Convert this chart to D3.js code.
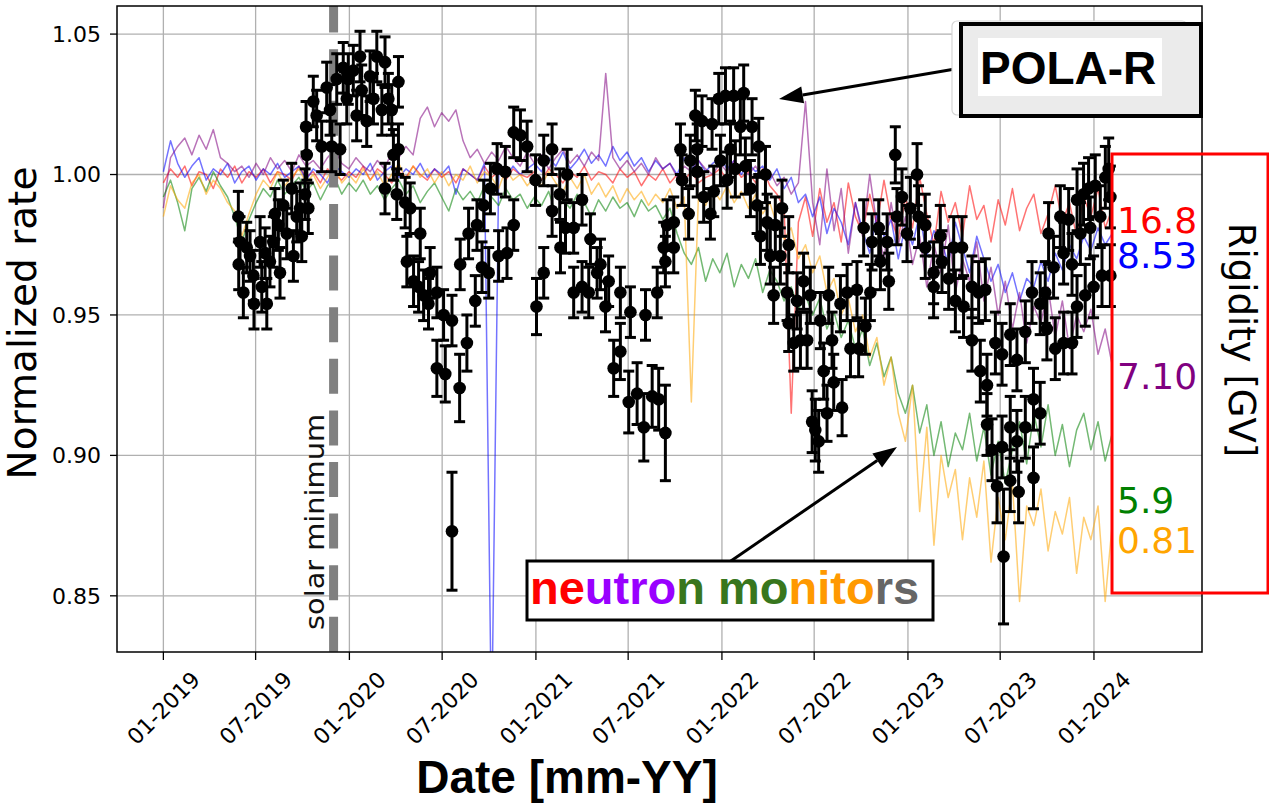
<!DOCTYPE html>
<html>
<head>
<meta charset="utf-8">
<script src="https://cdn.jsdelivr.net/npm/d3@7"></script>
<style>
    html, body { margin: 0; padding: 0; background: #fff; }
    svg { display: block; }
</style>
</head>
<body>
<svg id="chart" width="1269" height="805"></svg>
<script>
// POLA-R normalized rate: [ decimal year, rate, error ]
var polaR = [
    [2019.403,0.985,0.009],[2019.405,0.968,0.009],[2019.412,0.976,0.009],[2019.430,0.958,0.009],[2019.448,0.974,0.009],
    [2019.466,0.971,0.009],[2019.484,0.964,0.009],[2019.487,0.954,0.009],[2019.520,0.976,0.009],[2019.529,0.960,0.009],
    [2019.547,0.972,0.009],[2019.556,0.954,0.009],[2019.573,0.969,0.009],[2019.591,0.976,0.009],[2019.600,0.986,0.009],
    [2019.618,0.982,0.009],[2019.627,0.965,0.009],[2019.645,0.989,0.009],[2019.663,0.979,0.009],[2019.690,0.995,0.009],
    [2019.699,0.971,0.009],[2019.717,0.985,0.009],[2019.735,0.988,0.009],[2019.744,0.978,0.009],[2019.762,0.993,0.009],
    [2019.771,1.007,0.009],[2019.767,1.017,0.009],[2019.779,0.988,0.009],[2019.806,1.026,0.009],[2019.824,1.021,0.009],
    [2019.851,1.010,0.009],[2019.878,1.031,0.009],[2019.896,1.023,0.009],[2019.905,1.010,0.009],[2019.932,1.034,0.009],
    [2019.950,1.009,0.009],[2019.967,1.038,0.009],[2019.986,1.027,0.009],[2019.994,1.034,0.009],[2020.021,1.037,0.009],
    [2020.039,1.021,0.009],[2020.057,1.042,0.009],[2020.066,1.030,0.009],[2020.093,1.019,0.009],[2020.111,1.035,0.009],
    [2020.129,1.027,0.009],[2020.147,1.042,0.009],[2020.174,1.023,0.009],[2020.191,1.040,0.009],[2020.191,0.995,0.009],
    [2020.209,1.027,0.009],[2020.227,1.023,0.009],[2020.236,1.007,0.009],[2020.254,0.993,0.009],[2020.263,1.033,0.009],
    [2020.263,1.009,0.009],[2020.299,0.990,0.009],[2020.308,0.969,0.009],[2020.326,0.988,0.009],[2020.344,0.962,0.009],
    [2020.371,0.960,0.009],[2020.380,0.979,0.009],[2020.398,0.957,0.009],[2020.424,0.954,0.009],[2020.433,0.965,0.009],
    [2020.469,0.958,0.009],[2020.469,0.931,0.010],[2020.505,0.950,0.009],[2020.514,0.929,0.010],[2020.550,0.948,0.009],
    [2020.550,0.873,0.021],[2020.591,0.924,0.012],[2020.594,0.968,0.009],[2020.630,0.940,0.010],[2020.639,0.979,0.009],
    [2020.675,0.955,0.009],[2020.684,0.982,0.009],[2020.711,0.967,0.009],[2020.720,0.989,0.009],[2020.747,0.965,0.009],
    [2020.756,0.995,0.009],[2020.792,1.002,0.009],[2020.800,0.971,0.009],[2020.836,1.001,0.009],[2020.845,0.972,0.009],
    [2020.881,1.015,0.009],[2020.881,0.982,0.009],[2020.917,1.014,0.009],[2020.953,1.010,0.009],[2020.998,0.998,0.009],
    [2021.003,0.953,0.010],[2021.042,0.965,0.009],[2021.042,1.005,0.009],[2021.087,1.009,0.009],[2021.087,0.987,0.009],
    [2021.128,0.993,0.009],[2021.132,0.974,0.009],[2021.159,0.981,0.009],[2021.168,1.000,0.009],[2021.203,0.981,0.009],
    [2021.203,0.958,0.009],[2021.248,0.991,0.009],[2021.248,0.960,0.009],[2021.284,0.958,0.009],[2021.293,0.977,0.009],
    [2021.329,0.965,0.009],[2021.347,0.968,0.009],[2021.374,0.953,0.009],[2021.391,0.962,0.009],[2021.418,0.931,0.010],
    [2021.454,0.937,0.010],[2021.454,0.958,0.009],[2021.499,0.919,0.011],[2021.508,0.951,0.009],[2021.544,0.922,0.011],
    [2021.580,0.910,0.012],[2021.589,0.950,0.009],[2021.625,0.921,0.011],[2021.652,0.958,0.009],[2021.660,0.920,0.011],
    [2021.687,0.974,0.009],[2021.696,0.908,0.017],[2021.696,0.969,0.009],[2021.705,0.982,0.009],[2021.741,0.974,0.009],
    [2021.741,0.983,0.009],[2021.777,1.009,0.009],[2021.786,0.998,0.009],[2021.821,0.986,0.009],[2021.830,1.005,0.009],
    [2021.857,1.021,0.009],[2021.867,1.009,0.009],[2021.867,1.001,0.009],[2021.893,1.019,0.009],[2021.902,0.992,0.009],
    [2021.938,0.986,0.009],[2021.947,1.018,0.009],[2021.956,0.994,0.009],[2021.983,1.027,0.009],[2021.992,1.005,0.009],
    [2022.019,1.028,0.010],[2022.028,0.998,0.010],[2022.046,1.009,0.010],[2022.063,1.028,0.010],[2022.072,1.002,0.010],
    [2022.099,1.017,0.010],[2022.117,1.029,0.010],[2022.126,1.003,0.010],[2022.153,0.995,0.010],[2022.162,1.017,0.010],
    [2022.189,0.989,0.010],[2022.198,1.010,0.010],[2022.207,0.978,0.010],[2022.234,1.000,0.010],[2022.243,0.983,0.010],
    [2022.260,0.971,0.010],[2022.278,0.957,0.010],[2022.287,0.982,0.010],[2022.314,0.971,0.010],[2022.323,0.988,0.010],
    [2022.350,0.958,0.010],[2022.359,0.975,0.010],[2022.359,0.947,0.010],[2022.386,0.940,0.010],[2022.404,0.955,0.010],
    [2022.422,0.941,0.010],[2022.439,0.962,0.010],[2022.458,0.941,0.010],[2022.475,0.957,0.010],[2022.485,0.912,0.011],
    [2022.502,0.909,0.011],[2022.520,0.905,0.011],[2022.529,0.948,0.010],[2022.547,0.930,0.010],[2022.565,0.915,0.010],
    [2022.574,0.957,0.010],[2022.592,0.941,0.010],[2022.601,0.926,0.010],[2022.637,0.954,0.010],[2022.646,0.917,0.010],
    [2022.673,0.958,0.010],[2022.691,0.938,0.010],[2022.726,0.959,0.010],[2022.735,0.938,0.010],[2022.762,0.981,0.010],
    [2022.771,0.946,0.010],[2022.798,0.958,0.010],[2022.807,0.976,0.010],[2022.843,0.981,0.010],[2022.852,0.969,0.010],
    [2022.888,0.976,0.010],[2022.897,0.962,0.010],[2022.932,1.007,0.010],[2022.941,0.985,0.010],[2022.968,0.992,0.010],
    [2022.995,0.979,0.010],[2023.013,0.988,0.011],[2023.049,1.000,0.011],[2023.057,0.985,0.011],[2023.093,0.974,0.011],
    [2023.093,0.982,0.011],[2023.138,0.965,0.011],[2023.138,0.960,0.011],[2023.174,0.978,0.011],[2023.183,0.969,0.011],
    [2023.219,0.963,0.011],[2023.246,0.974,0.011],[2023.255,0.955,0.011],[2023.291,0.974,0.011],[2023.299,0.953,0.011],
    [2023.344,0.960,0.011],[2023.344,0.941,0.011],[2023.380,0.958,0.011],[2023.389,0.930,0.011],[2023.416,0.959,0.011],
    [2023.425,0.925,0.011],[2023.425,0.911,0.011],[2023.452,0.902,0.011],[2023.470,0.940,0.011],[2023.479,0.889,0.013],
    [2023.506,0.936,0.011],[2023.506,0.903,0.011],[2023.514,0.864,0.024],[2023.550,0.943,0.011],[2023.550,0.910,0.011],
    [2023.550,0.891,0.011],[2023.586,0.934,0.011],[2023.586,0.905,0.011],[2023.595,0.887,0.011],[2023.631,0.944,0.011],
    [2023.631,0.910,0.011],[2023.667,0.958,0.011],[2023.675,0.892,0.011],[2023.675,0.920,0.011],[2023.711,0.915,0.011],
    [2023.711,0.954,0.011],[2023.738,0.958,0.011],[2023.747,0.945,0.011],[2023.756,0.979,0.011],[2023.783,0.967,0.011],
    [2023.792,0.938,0.011],[2023.819,0.985,0.011],[2023.837,0.972,0.011],[2023.837,0.940,0.011],[2023.864,0.984,0.011],
    [2023.882,0.968,0.011],[2023.882,0.940,0.011],[2023.909,0.991,0.011],[2023.909,0.953,0.011],[2023.927,0.979,0.011],
    [2023.944,0.993,0.011],[2023.953,0.957,0.011],[2023.971,0.995,0.011],[2023.980,0.981,0.011],[2023.998,0.960,0.011],
    [2024.007,0.996,0.011],[2024.034,0.985,0.011],[2024.043,0.964,0.011],[2024.061,0.999,0.011],[2024.079,1.002,0.011],
    [2024.088,0.992,0.011],[2024.088,0.964,0.011]
];

// neutron monitor rates, one value every 14 days from 2019-01-01
var nmStart = '2019-01-01',
    nmStepDays = 14;

var nm168 = [
    0.997,1.002,0.999,1.003,0.996,1.001,1.000,0.995,1.002,0.999,1.003,0.997,1.001,
    0.999,1.002,0.997,1.001,1.000,0.998,1.003,0.999,1.001,0.997,1.002,1.000,0.998,
    1.001,0.999,1.003,0.998,1.002,1.000,0.997,1.001,0.999,1.003,1.000,0.998,1.002,
    0.999,1.001,0.997,1.002,1.000,0.998,1.003,0.999,1.001,0.998,1.002,1.000,0.999,
    1.001,0.998,1.002,1.000,0.997,1.001,0.999,1.003,0.998,1.001,1.000,0.997,1.002,
    0.999,1.001,0.996,1.000,0.998,1.002,0.997,1.000,0.998,1.001,0.997,0.999,1.000,
    1.002,0.998,1.003,0.999,1.001,0.997,1.002,0.996,0.993,0.988,0.915,0.983,0.992,
    0.978,0.995,0.983,0.990,0.976,0.997,0.985,0.979,0.993,0.982,0.998,0.984,0.977,
    0.992,0.981,0.999,0.986,0.975,0.994,0.983,0.990,0.978,0.996,0.984,0.989,0.976,
    0.991,0.982,0.995,0.980,0.988,0.993,0.979,0.986,0.996,0.983,0.990,0.978,0.992,
    0.985,0.995,0.981,0.988
];
var nm853 = [
    1.001,1.012,1.004,0.999,1.003,1.006,0.998,1.002,1.000,1.004,0.997,1.001,1.003,
    0.998,1.002,1.000,1.004,0.999,1.001,1.003,0.998,1.002,1.000,0.997,1.003,1.001,
    0.999,1.002,1.000,1.004,0.998,1.001,1.003,0.999,1.002,1.000,1.004,0.999,1.002,
    1.000,1.003,0.993,1.002,1.000,0.998,1.004,0.800,1.001,0.999,1.003,1.000,1.002,
    1.004,1.001,1.006,1.003,1.008,1.002,1.005,1.009,1.004,1.007,1.003,1.010,1.005,
    1.008,1.003,1.006,1.001,1.005,1.002,1.004,1.000,1.006,1.002,1.005,1.001,1.004,
    1.006,1.002,1.005,1.000,1.004,1.001,1.003,0.998,1.002,0.995,0.999,0.990,0.993,
    0.985,0.992,0.979,0.988,0.983,0.975,0.990,0.980,0.972,0.986,0.978,0.984,0.970,
    0.982,0.975,0.986,0.971,0.980,0.977,0.968,0.983,0.974,0.965,0.978,0.970,0.962,
    0.968,0.958,0.965,0.955,0.963,0.960,0.969,0.962,0.972,0.966,0.975,0.970,0.978,
    0.973,0.981,0.975,0.979
];
var nm710 = [
    0.988,1.006,1.010,1.013,1.007,1.014,1.009,1.016,1.006,1.004,1.001,1.003,0.999,
    1.004,1.000,1.006,1.002,1.005,1.001,1.007,1.003,1.005,1.002,1.006,1.009,1.004,
    1.002,1.006,1.003,1.001,1.005,1.002,1.008,1.006,1.010,1.007,1.020,1.024,1.017,
    1.022,1.019,1.023,1.012,1.006,1.009,1.004,1.008,1.005,1.010,1.006,1.003,1.008,
    1.004,1.007,1.002,1.006,1.009,1.004,1.007,1.003,1.008,1.005,1.036,1.006,1.002,
    1.005,1.001,1.004,1.000,1.006,1.002,1.004,0.999,1.003,1.001,1.005,1.002,1.000,
    1.004,1.001,1.005,1.002,1.000,1.003,0.999,1.001,0.996,0.999,0.993,0.997,1.026,
    0.990,0.975,1.002,0.980,0.995,0.972,0.990,0.978,1.000,0.982,0.970,0.990,0.975,
    0.985,0.968,0.978,0.960,0.975,0.965,0.982,0.958,0.970,0.962,0.976,0.955,0.967,
    0.950,0.962,0.945,0.958,0.940,0.953,0.947,0.960,0.942,0.955,0.938,0.950,0.944,
    0.952,0.936,0.945,0.932
];
var nm59 = [
    0.992,0.998,0.990,0.980,0.995,0.999,0.994,1.001,0.996,0.992,0.985,0.976,0.984,
    0.990,0.995,0.992,0.998,0.993,0.996,0.999,0.994,0.997,0.991,0.996,0.999,0.993,
    0.997,0.994,0.998,0.993,0.996,0.991,0.995,0.998,0.993,0.996,0.990,0.994,0.997,
    0.992,0.987,0.995,0.991,0.994,0.990,0.996,0.992,0.989,0.995,0.991,0.993,0.988,
    0.992,0.989,0.994,0.986,0.991,0.988,0.993,0.990,0.985,0.991,0.987,0.992,0.988,
    0.990,0.985,0.991,0.987,0.989,0.984,0.988,0.979,0.972,0.968,0.974,0.962,0.970,
    0.965,0.972,0.960,0.968,0.963,0.970,0.958,0.966,0.962,0.955,0.960,0.952,0.957,
    0.950,0.956,0.945,0.951,0.942,0.948,0.938,0.945,0.932,0.940,0.928,0.935,0.922,
    0.915,0.925,0.908,0.918,0.900,0.912,0.896,0.908,0.902,0.915,0.898,0.910,0.893,
    0.905,0.890,0.902,0.912,0.897,0.915,0.903,0.918,0.900,0.911,0.896,0.909,0.915,
    0.902,0.912,0.898,0.908
];
var nm081 = [
    0.985,0.996,0.991,0.988,0.997,1.000,0.993,0.998,0.995,0.990,0.987,0.978,0.986,
    0.993,0.998,0.995,1.001,0.996,0.999,1.002,0.997,1.000,0.995,0.999,1.003,0.997,
    1.000,0.997,1.002,0.998,1.001,0.996,1.000,1.004,0.998,1.003,0.999,1.002,0.997,
    1.001,0.996,1.000,0.998,1.003,0.997,1.001,0.999,0.995,1.002,0.998,1.000,0.996,
    0.999,0.996,1.001,0.997,0.994,0.999,0.995,1.000,0.993,0.997,0.992,0.996,0.990,
    0.995,0.991,0.994,0.989,0.993,0.990,0.995,0.988,0.992,0.919,0.993,0.989,0.995,
    0.991,0.996,0.990,0.994,0.988,0.993,0.986,0.990,0.982,0.977,0.981,0.970,0.975,
    0.965,0.971,0.958,0.963,0.950,0.956,0.944,0.950,0.935,0.942,0.925,0.935,0.915,
    0.905,0.925,0.880,0.910,0.868,0.900,0.885,0.895,0.870,0.892,0.878,0.898,0.862,
    0.885,0.870,0.890,0.848,0.882,0.875,0.888,0.866,0.880,0.872,0.885,0.858,0.878,
    0.870,0.882,0.848,0.876
];

var nmSeries = [ nm168, nm853, nm710, nm59, nm081 ],
    rigidities = [ '16.8', '8.53', '7.10', '5.9', '0.81' ],
    nmColors = [ 'red', 'blue', 'purple', 'green', 'orange' ];

var xTicks = [ '2019-01', '2019-07', '2020-01', '2020-07', '2021-01', '2021-07',
               '2022-01', '2022-07', '2023-01', '2023-07', '2024-01' ],
    yTicks = [ 0.85, 0.90, 0.95, 1.00, 1.05 ],
    solarMinimum = '2019-12-01';

// coloured letters of the "neutron monitors" box
var monitorWord = [ 'ne', 'utro', 'n', ' mo', 'nito', 'rs' ],
    monitorColors = [ '#ff0000', '#9900ff', '#38761d', '#38761d', '#ff9900', '#666666' ];

var svg = d3.select( '#chart' ),
    pLeft = 117, pRight = 1202, pTop = 6, pBottom = 652,
    mpl = 'DejaVu Sans, sans-serif',
    arial = 'Liberation Sans, Arial, sans-serif';

var parseDay = d3.timeParse( '%Y-%m-%d' ),
    parseMonth = d3.timeParse( '%Y-%m' ),
    fmtMonth = d3.timeFormat( '%m-%Y' );

function yearToDate( v ) {
    var yr = Math.floor( v ),
        a = new Date( yr, 0, 1 ),
        b = new Date( yr + 1, 0, 1 );
    return new Date( +a + ( v - yr ) * ( b - a ) );
}

var x = d3.scaleTime()
    .domain( [ new Date( 2018, 9, 2 ), new Date( 2024, 6, 31 ) ] )
    .range( [ pLeft, pRight ] );

var y = d3.scaleLinear()
    .domain( [ 0.83, 1.06 ] )
    .range( [ pBottom, pTop ] );

svg.append( 'defs' ).append( 'clipPath' ).attr( 'id', 'plot' )
    .append( 'rect' )
    .attr( 'x', pLeft ).attr( 'y', pTop )
    .attr( 'width', pRight - pLeft ).attr( 'height', pBottom - pTop );

// grid
var grid = svg.append( 'g' ).attr( 'stroke', '#b0b0b0' ).attr( 'stroke-width', 1.3 );
xTicks.forEach( function( t ) {
    var px = x( parseMonth( t ) );
    grid.append( 'line' ).attr( 'x1', px ).attr( 'x2', px ).attr( 'y1', pTop ).attr( 'y2', pBottom );
} );
yTicks.forEach( function( t ) {
    grid.append( 'line' ).attr( 'x1', pLeft ).attr( 'x2', pRight ).attr( 'y1', y( t ) ).attr( 'y2', y( t ) );
} );

// neutron monitor lines
var start = parseDay( nmStart ),
    line = d3.line()
        .x( function( d, i ) { return x( d3.timeDay.offset( start, i * nmStepDays ) ); } )
        .y( function( d ) { return y( d ); } );

var nmLayer = svg.append( 'g' ).attr( 'clip-path', 'url(#plot)' );
nmSeries.forEach( function( s, i ) {
    nmLayer.append( 'path' )
        .datum( s )
        .attr( 'd', line )
        .attr( 'fill', 'none' )
        .attr( 'stroke', nmColors[ i ] )
        .attr( 'stroke-width', 1.5 )
        .attr( 'stroke-linejoin', 'round' )
        .attr( 'stroke-opacity', 0.55 );
} );

// solar minimum
var sx = x( parseDay( solarMinimum ) );
svg.append( 'line' )
    .attr( 'x1', sx ).attr( 'x2', sx ).attr( 'y1', pTop ).attr( 'y2', pBottom )
    .attr( 'stroke', '#808080' )
    .attr( 'stroke-width', 9 )
    .attr( 'stroke-dasharray', '35,16.6' )
    .attr( 'stroke-dashoffset', 8.4 );

svg.append( 'text' )
    .attr( 'transform', 'translate(' + ( sx - 10 ) + ',630) rotate(-90)' )
    .attr( 'font-family', mpl )
    .attr( 'font-size', 26 )
    .attr( 'textLength', 216 )
    .attr( 'lengthAdjust', 'spacingAndGlyphs' )
    .attr( 'fill', '#111' )
    .text( 'solar minimum' );

// POLA-R points with error bars
var pts = svg.append( 'g' ).attr( 'clip-path', 'url(#plot)' ),
    bars = pts.append( 'g' ).attr( 'stroke', '#000' ).attr( 'stroke-width', 3 ),
    cap = 5.5;

polaR.forEach( function( d ) {
    var px = x( yearToDate( d[ 0 ] ) ),
        y1 = y( d[ 1 ] + d[ 2 ] ),
        y2 = y( d[ 1 ] - d[ 2 ] );
    bars.append( 'line' ).attr( 'x1', px ).attr( 'x2', px ).attr( 'y1', y1 ).attr( 'y2', y2 );
    bars.append( 'line' ).attr( 'x1', px - cap ).attr( 'x2', px + cap ).attr( 'y1', y1 ).attr( 'y2', y1 );
    bars.append( 'line' ).attr( 'x1', px - cap ).attr( 'x2', px + cap ).attr( 'y1', y2 ).attr( 'y2', y2 );
} );

pts.append( 'g' ).selectAll( 'circle' )
    .data( polaR )
    .join( 'circle' )
    .attr( 'cx', function( d ) { return x( yearToDate( d[ 0 ] ) ); } )
    .attr( 'cy', function( d ) { return y( d[ 1 ] ); } )
    .attr( 'r', 6.3 )
    .attr( 'fill', '#000' );

// frame, ticks and tick labels
svg.append( 'rect' )
    .attr( 'x', pLeft ).attr( 'y', pTop )
    .attr( 'width', pRight - pLeft ).attr( 'height', pBottom - pTop )
    .attr( 'fill', 'none' )
    .attr( 'stroke', '#000' )
    .attr( 'stroke-width', 1.5 );

var axes = svg.append( 'g' );
yTicks.forEach( function( t ) {
    axes.append( 'line' )
        .attr( 'x1', pLeft - 7 ).attr( 'x2', pLeft )
        .attr( 'y1', y( t ) ).attr( 'y2', y( t ) )
        .attr( 'stroke', '#000' ).attr( 'stroke-width', 1.3 );
    axes.append( 'text' )
        .attr( 'x', pLeft - 16 ).attr( 'y', y( t ) )
        .attr( 'dy', '0.36em' )
        .attr( 'text-anchor', 'end' )
        .attr( 'font-family', mpl )
        .attr( 'font-size', 22 )
        .text( d3.format( '.2f' )( t ) );
} );

xTicks.forEach( function( t ) {
    var px = x( parseMonth( t ) );
    axes.append( 'line' )
        .attr( 'x1', px ).attr( 'x2', px )
        .attr( 'y1', pBottom ).attr( 'y2', pBottom + 8 )
        .attr( 'stroke', '#000' ).attr( 'stroke-width', 1.3 );
    axes.append( 'text' )
        .attr( 'transform', 'translate(' + px + ',' + ( pBottom + 56 ) + ') rotate(-45)' )
        .attr( 'dy', '0.36em' )
        .attr( 'text-anchor', 'middle' )
        .attr( 'font-family', mpl )
        .attr( 'font-size', 22 )
        .text( fmtMonth( parseMonth( t ) ) );
} );

svg.append( 'text' )
    .attr( 'transform', 'translate(36,' + ( ( pTop + pBottom ) / 2 - 6 ) + ') rotate(-90)' )
    .attr( 'text-anchor', 'middle' )
    .attr( 'font-family', mpl )
    .attr( 'font-size', 39 )
    .text( 'Normalized rate' );

svg.append( 'text' )
    .attr( 'x', 567 ).attr( 'y', 793 )
    .attr( 'text-anchor', 'middle' )
    .attr( 'font-family', arial )
    .attr( 'font-weight', 'bold' )
    .attr( 'font-size', 46 )
    .text( 'Date [mm-YY]' );

// rigidity box on the right
var rigY = [ 233, 268, 389, 513, 553 ];
rigidities.forEach( function( r, i ) {
    svg.append( 'text' )
        .attr( 'x', 1117 ).attr( 'y', rigY[ i ] )
        .attr( 'font-family', mpl )
        .attr( 'font-size', 36 )
        .attr( 'fill', nmColors[ i ] )
        .text( r );
} );

svg.append( 'text' )
    .attr( 'transform', 'translate(1229,340) rotate(90)' )
    .attr( 'text-anchor', 'middle' )
    .attr( 'font-family', mpl )
    .attr( 'font-size', 37 )
    .text( 'Rigidity [GV]' );

svg.append( 'rect' )
    .attr( 'x', 1112 ).attr( 'y', 154 )
    .attr( 'width', 156 ).attr( 'height', 439 )
    .attr( 'fill', 'none' )
    .attr( 'stroke', '#ff0000' )
    .attr( 'stroke-width', 3 );

// arrows
function arrow( x1, y1, x2, y2 ) {
    var a = Math.atan2( y2 - y1, x2 - x1 ),
        len = 24, half = 8.5,
        bx = x2 - len * Math.cos( a ), by = y2 - len * Math.sin( a );
    svg.append( 'line' )
        .attr( 'x1', x1 ).attr( 'y1', y1 )
        .attr( 'x2', bx ).attr( 'y2', by )
        .attr( 'stroke', '#000' ).attr( 'stroke-width', 3 );
    svg.append( 'path' )
        .attr( 'd', 'M' + x2 + ',' + y2 +
            'L' + ( bx + half * Math.sin( a ) ) + ',' + ( by - half * Math.cos( a ) ) +
            'L' + ( bx - half * Math.sin( a ) ) + ',' + ( by + half * Math.cos( a ) ) + 'Z' )
        .attr( 'fill', '#000' );
}

arrow( 961, 68, 779, 99 );
arrow( 728, 563, 897, 447 );

// POLA-R label box
svg.append( 'rect' )
    .attr( 'x', 952 ).attr( 'y', 21 )
    .attr( 'width', 235 ).attr( 'height', 94 )
    .attr( 'rx', 5 )
    .attr( 'fill', '#fff' )
    .attr( 'stroke', '#d5d5d5' )
    .attr( 'stroke-width', 1.2 );
svg.append( 'rect' )
    .attr( 'x', 961 ).attr( 'y', 24 )
    .attr( 'width', 240 ).attr( 'height', 92 )
    .attr( 'fill', '#ebebeb' )
    .attr( 'stroke', '#000' )
    .attr( 'stroke-width', 4 );
svg.append( 'rect' )
    .attr( 'x', 978 ).attr( 'y', 38 )
    .attr( 'width', 184 ).attr( 'height', 58 )
    .attr( 'fill', '#fff' );
svg.append( 'text' )
    .attr( 'x', 980 ).attr( 'y', 84 )
    .attr( 'font-family', arial )
    .attr( 'font-weight', 'bold' )
    .attr( 'font-size', 46 )
    .text( 'POLA-R' );

// neutron monitors label box
svg.append( 'rect' )
    .attr( 'x', 527 ).attr( 'y', 561 )
    .attr( 'width', 406 ).attr( 'height', 59 )
    .attr( 'fill', '#fff' )
    .attr( 'stroke', '#000' )
    .attr( 'stroke-width', 3 );
var nmText = svg.append( 'text' )
    .attr( 'x', 530 ).attr( 'y', 604 )
    .attr( 'font-family', arial )
    .attr( 'font-weight', 'bold' )
    .attr( 'font-size', 47 )
    .attr( 'xml:space', 'preserve' );
monitorWord.forEach( function( w, i ) {
    nmText.append( 'tspan' ).attr( 'fill', monitorColors[ i ] ).text( w );
} );
</script>
</body>
</html>
